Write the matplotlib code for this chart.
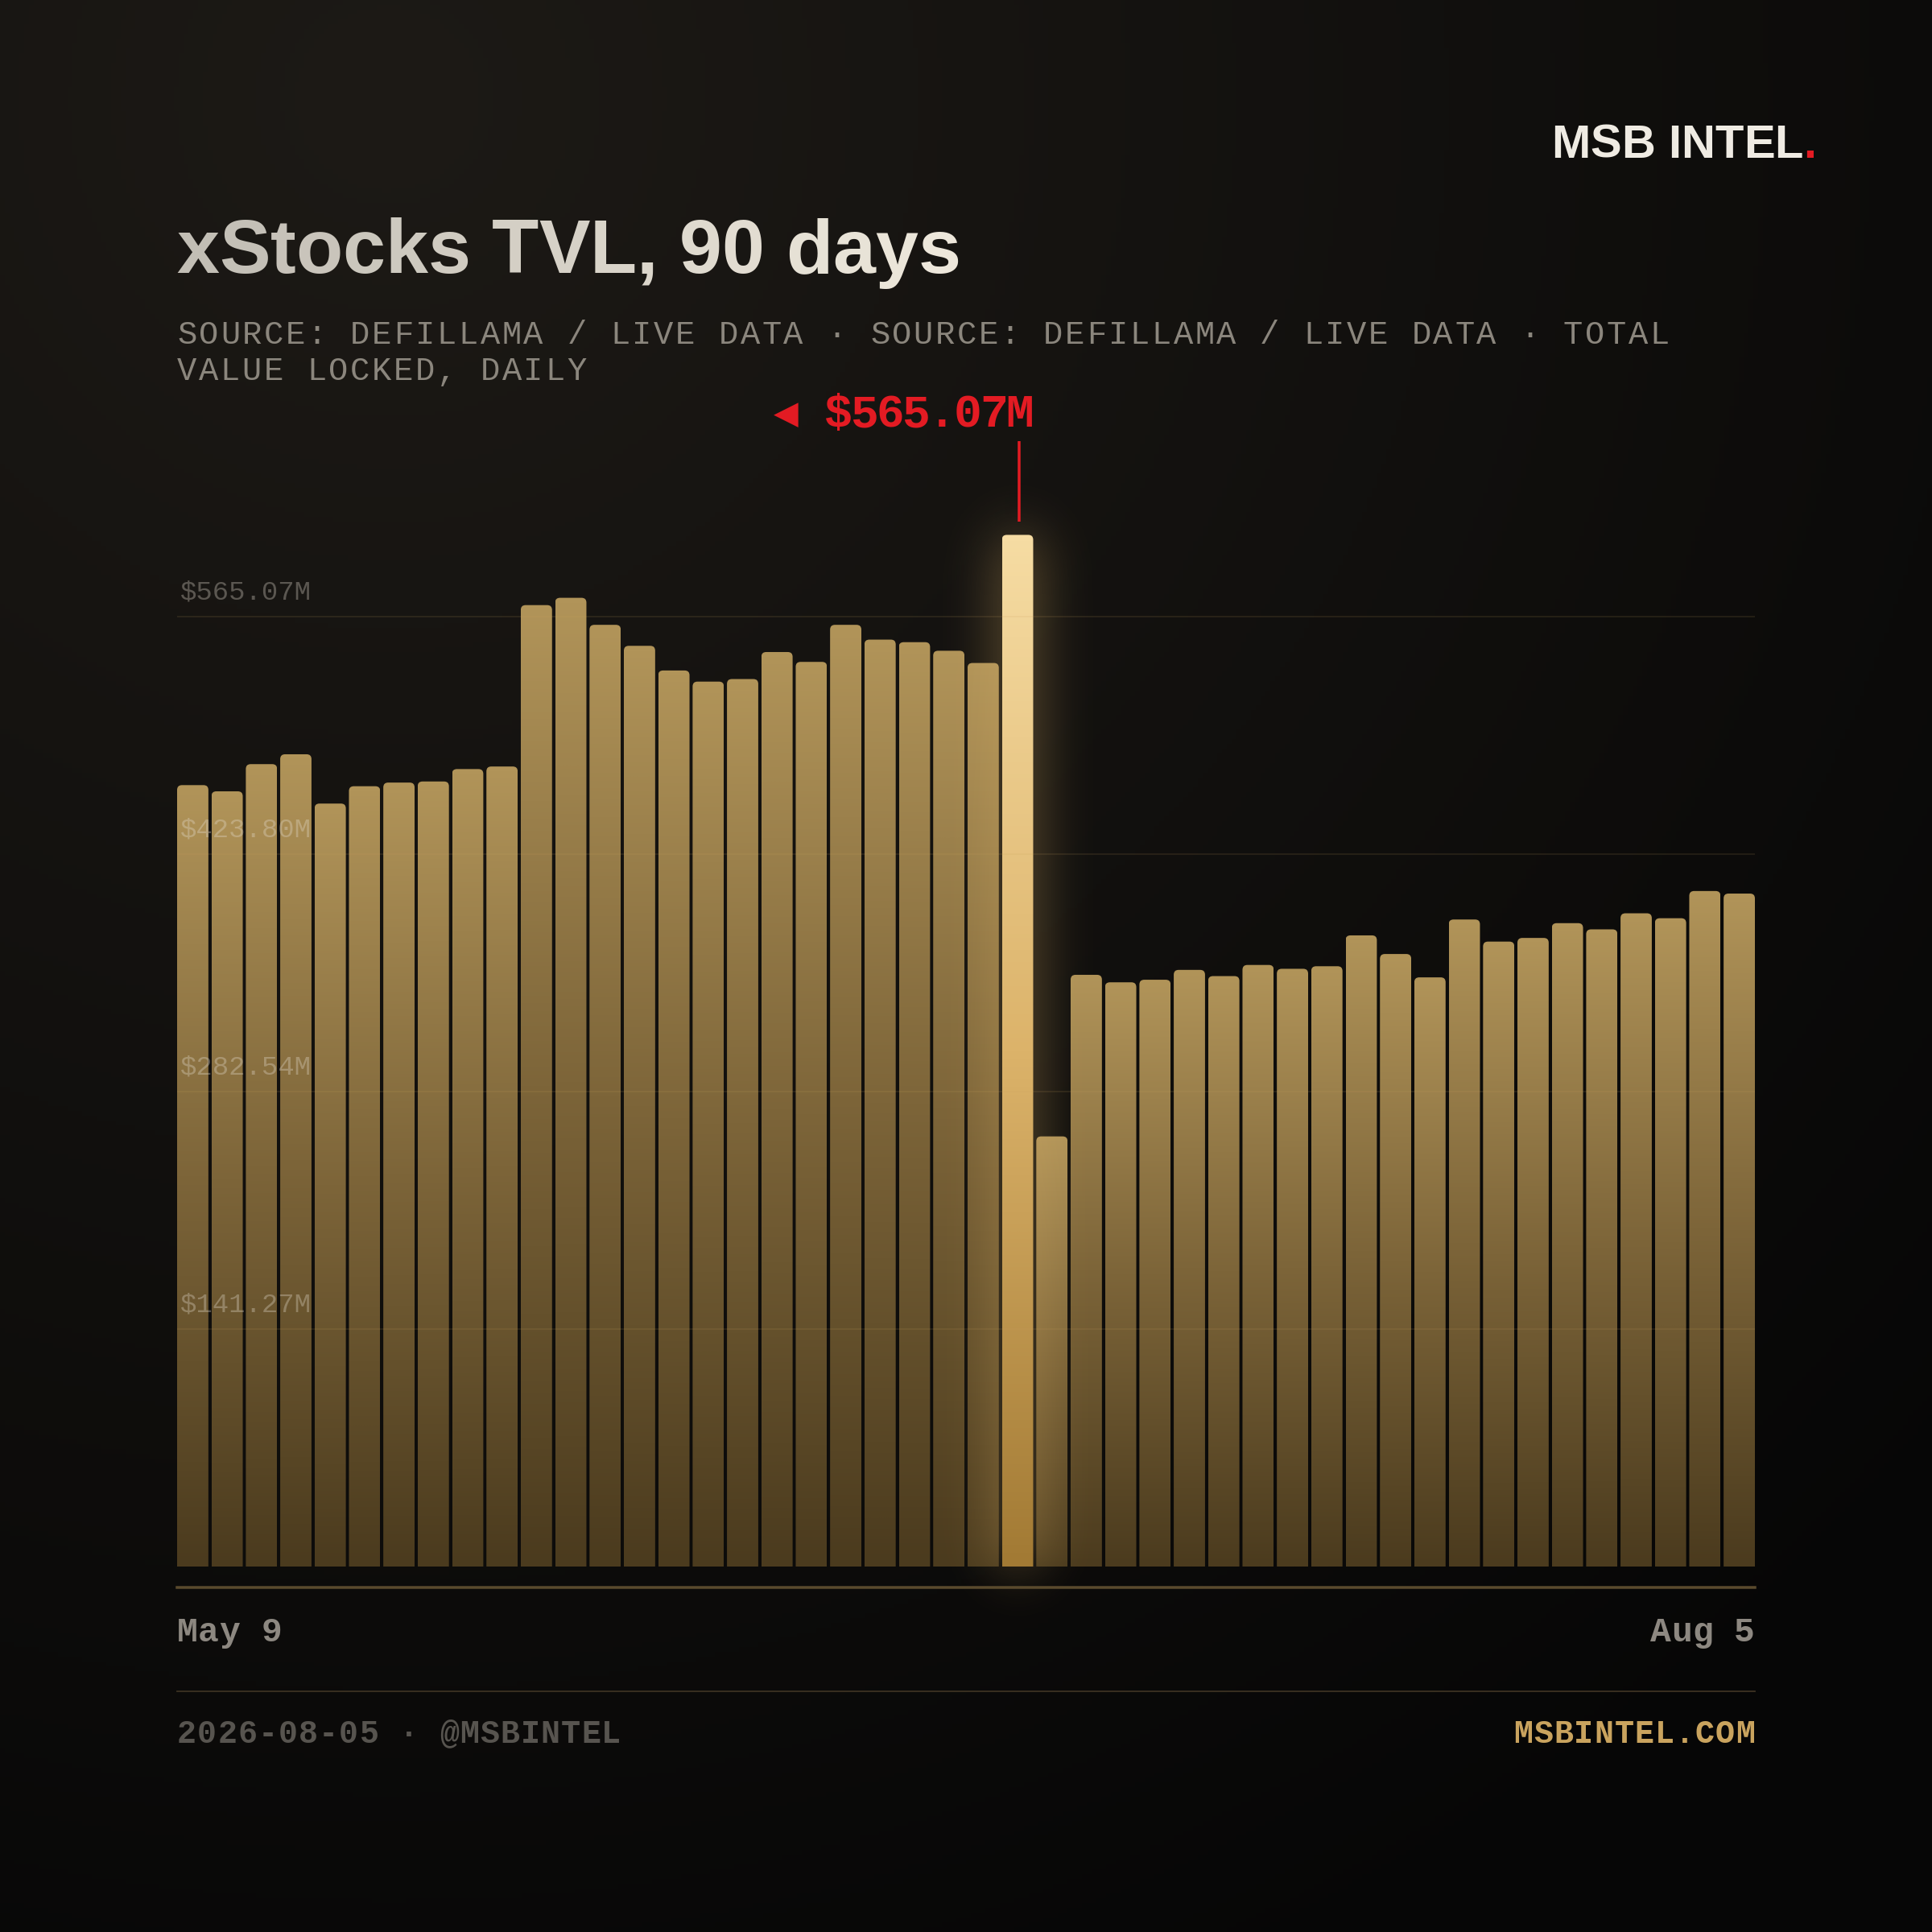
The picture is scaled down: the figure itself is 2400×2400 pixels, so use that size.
#!/usr/bin/env python3
"""xStocks TVL, 90 days: daily bar chart in the MSB Intel card style."""

import math

import matplotlib

matplotlib.use("Agg")
import matplotlib.pyplot as plt
import numpy as np
from matplotlib import font_manager
from matplotlib.colors import LinearSegmentedColormap, to_rgb
from matplotlib.ft2font import FT2Font
from matplotlib.lines import Line2D
from matplotlib.patches import FancyBboxPatch

# ---- data (USD millions, one bar per sampled day) ----
TVL_M = [
    428.0, 424.6, 439.5, 444.9, 417.9, 427.4, 429.4, 430.0, 436.8, 438.2,
    526.6, 530.6, 515.8, 504.3, 490.8, 484.7, 486.1, 500.9, 495.5, 515.8,
    507.7, 506.3, 501.6, 494.9, 565.07, 235.6, 324.1, 320.0, 321.4, 326.8,
    323.4, 329.5, 327.4, 328.8, 345.7, 335.5, 322.7, 354.4, 342.3, 344.3,
    352.4, 349.0, 357.8, 355.1, 370.0, 368.6,
]
GRID_VALUES = [141.27, 282.54, 423.80, 565.07]
GRID_LABELS = ["$141.27M", "$282.54M", "$423.80M", "$565.07M"]
PEAK_LABEL = "$565.07M"
DATE_FIRST = "May 9"
DATE_LAST = "Aug 5"

TITLE = "xStocks TVL, 90 days"
SUBTITLE_LINES = [
    "SOURCE: DEFILLAMA / LIVE DATA · SOURCE: DEFILLAMA / LIVE DATA · TOTAL",
    "VALUE LOCKED, DAILY",
]
BRAND = "MSB INTEL."
FOOTER_LEFT = "2026-08-05 · @MSBINTEL"
FOOTER_RIGHT = "MSBINTEL.COM"

# ---- style ----
W = H = 2400
DPI = 200
SANS = "Liberation Sans"
MONO = "Liberation Mono"
RED = "#e31b23"
GOLD = "#c9a35e"
GRID_SCALE = 0.921  # gridlines sit slightly below the bar scale in the original card
BAR_W = 0.91


def pt(px):
    return px * 72.0 / DPI


_font_cache = {}


def glyph_advances(text, family, weight, size_px):
    key = (family, weight)
    if key not in _font_cache:
        path = font_manager.findfont(font_manager.FontProperties(family=family, weight=weight))
        _font_cache[key] = FT2Font(path)
    font = _font_cache[key]
    font.set_size(pt(size_px), DPI)
    return [font.load_char(ord(ch)).linearHoriAdvance / 65536.0 for ch in text]


def spaced_text(fig, x, y, text, size_px, family, weight="normal", color="white",
                tracking=0.0, ha="left", alpha=1.0):
    """Draw text char by char (x, y in pixels from the top-left) to mimic letter-spacing."""
    adv = glyph_advances(text, family, weight, size_px)
    total = sum(adv) + tracking * (len(text) - 1)
    if ha == "right":
        x -= total
    start = x
    colors = color if isinstance(color, list) else [color] * len(text)
    for ch, a, c in zip(text, adv, colors):
        if ch != " ":
            fig.text(x / W, 1 - y / H, ch, fontsize=pt(size_px), family=family,
                     weight=weight, color=c, alpha=alpha, ha="left", va="baseline")
        x += a + tracking
    return start, total


def blend(c0, c1, t):
    a, b = np.array(to_rgb(c0)), np.array(to_rgb(c1))
    return tuple(a * (1 - t) + b * t)


erf = np.frompyfunc(math.erf, 1, 1)


def soft_box(coord, lo, hi, sigma):
    s = sigma * math.sqrt(2)
    return 0.5 * (erf((coord - lo) / s).astype(float) - erf((coord - hi) / s).astype(float))


fig = plt.figure(figsize=(W / DPI, H / DPI), dpi=DPI)

# background: warm glow from the upper left fading to near black
bg = fig.add_axes([0, 0, 1, 1], zorder=-1)
yy, xx = np.mgrid[0:1:400j, 0:1:400j]
t = np.clip(np.hypot(xx - 0.2, yy - 0.05) / 1.1, 0, 1)[..., None]
bg_img = np.array(to_rgb("#1d1a16")) * (1 - t) + np.array(to_rgb("#060606")) * t
bg.imshow(bg_img, extent=(0, 1, 0, 1), aspect="auto", origin="upper")
bg.set_axis_off()

# chart axes: bars span 220..2180 px, baseline at 1946 px from top
n = len(TVL_M)
ax = fig.add_axes([220 / W, (H - 1946) / H, 1960 / W, 1451.5 / H])
ax.set_xlim(-BAR_W / 2, n - 1 + BAR_W / 2)
ax.set_ylim(0, 640)
ax.set_autoscale_on(False)
ax.set_axis_off()
ax.patch.set_alpha(0)

p0 = ax.transData.transform((0, 0))
p1 = ax.transData.transform((1, 1))
ux, uy = p1[0] - p0[0], p1[1] - p0[1]
aspect = ux / uy
radius = 6 / ux

peak_i = int(np.argmax(TVL_M))
peak_v = TVL_M[peak_i]

cmap_reg = LinearSegmentedColormap.from_list("reg", ["#4b3b1e", "#7d6539", "#b19459"])
cmap_hl = LinearSegmentedColormap.from_list("hl", ["#a27a34", "#dcb36a", "#f6dca3"])
ramp = np.linspace(0, 1, 256).reshape(-1, 1)

for i, v in enumerate(TVL_M):
    drop = 3 * radius * aspect
    shape = FancyBboxPatch(
        (i - BAR_W / 2, -drop), BAR_W, v + drop,
        boxstyle=f"round,pad=0,rounding_size={radius}",
        mutation_aspect=aspect, facecolor="none", edgecolor="none")
    ax.add_patch(shape)
    hl = i == peak_i
    im = ax.imshow(ramp, cmap=cmap_hl if hl else cmap_reg,
                   extent=(i - BAR_W / 2, i + BAR_W / 2, 0, v), origin="lower",
                   aspect="auto", interpolation="bilinear", zorder=4 if hl else 3)
    im.set_clip_path(shape)

# soft glow behind the peak bar (blurred box, drawn over neighbours)
half_w = BAR_W / 2 * ux
gx = np.linspace(-half_w - 150, half_w + 150, 300)
gy = np.linspace(-120, peak_v * uy + 120, 600)
alpha = 0.55 * np.outer(soft_box(gy, 0, peak_v * uy, 34), soft_box(gx, -half_w, half_w, 34))
glow = np.zeros(alpha.shape + (4,))
glow[..., :3] = to_rgb("#d9b066")
glow[..., 3] = alpha
ax.imshow(glow, extent=(peak_i + gx[0] / ux, peak_i + gx[-1] / ux, gy[0] / uy, gy[-1] / uy),
          origin="lower", aspect="auto", interpolation="bilinear", zorder=3.5, clip_on=False)

for v, lab in zip(GRID_VALUES, GRID_LABELS):
    ax.axhline(v * GRID_SCALE, color=GOLD, alpha=0.12, lw=pt(2), zorder=5)
    ax.annotate(lab, xy=(0, v * GRID_SCALE), xycoords=("axes fraction", "data"),
                xytext=(4, 21), textcoords="offset pixels", fontsize=pt(34),
                family=MONO, color="#e6dfd2", alpha=0.33, ha="left",
                va="baseline", zorder=6)

# peak marker: red tick above the bar and the value label
ax.plot([peak_i + 2 / ux] * 2, [peak_v + 16 / uy, peak_v + 116 / uy],
        color=RED, lw=pt(3.5), solid_capstyle="butt", clip_on=False, zorder=6)
bar_right = ax.transData.transform((peak_i + BAR_W / 2, peak_v))
bar_top_px = H - bar_right[1]
lab_x, _ = spaced_text(fig, bar_right[0] + 1, bar_top_px - 134, PEAK_LABEL, 58, MONO,
                       weight="bold", color=RED, tracking=-2.5, ha="right")
fig.text((lab_x - 32) / W, 1 - (bar_top_px - 138) / H, "◀", fontsize=pt(40),
         family="DejaVu Sans", color=RED, ha="right", va="baseline")

# header
spaced_text(fig, 2256, 196, BRAND, 58, SANS, weight="bold",
            color=["#efebe3"] * (len(BRAND) - 1) + [RED], ha="right")
title_cols = [blend("#c2beb5", "#ede7db", k / (len(TITLE) - 1)) for k in range(len(TITLE))]
spaced_text(fig, 219, 339, TITLE, 95.3, SANS, weight="bold", color=title_cols)
for k, line in enumerate(SUBTITLE_LINES):
    spaced_text(fig, 220, 427 + 45.5 * k, line, 40.5, MONO, color="#8b867d", tracking=2.6)

# axis rule, dates, footer
fig.add_artist(Line2D([220 / W, 2180 / W], [1 - 1972 / H] * 2, lw=pt(3.5), color="#5a4a2d"))
spaced_text(fig, 220, 2039, DATE_FIRST, 43, MONO, weight="bold", color="#8d8881", tracking=0.3)
spaced_text(fig, 2180, 2039, DATE_LAST, 43, MONO, weight="bold", color="#8d8881",
            tracking=0.3, ha="right")
fig.add_artist(Line2D([220 / W, 2180 / W], [1 - 2101 / H] * 2, lw=pt(1.8), color="#3d3222"))
spaced_text(fig, 220, 2165, FOOTER_LEFT, 40, MONO, weight="bold", color="#57544f", tracking=1.1)
spaced_text(fig, 2180, 2165, FOOTER_RIGHT, 40, MONO, weight="bold", color=GOLD,
            tracking=1.1, ha="right")

fig.savefig("out.png", dpi=DPI, facecolor="#0b0a09")
plt.close(fig)
